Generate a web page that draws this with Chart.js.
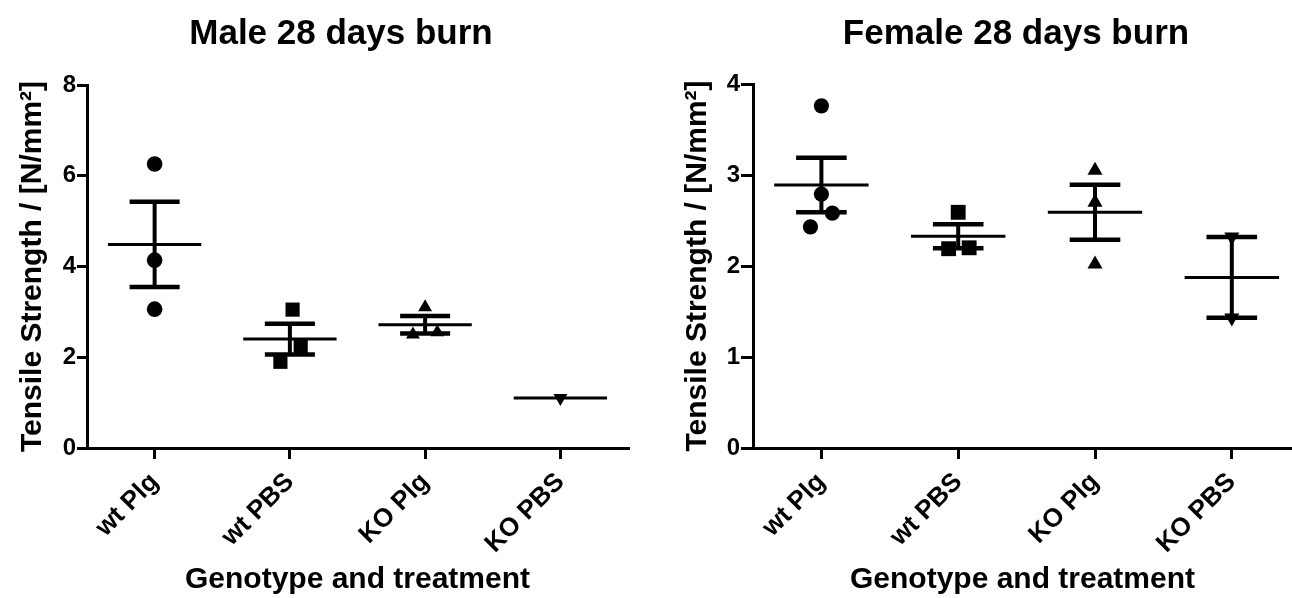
<!DOCTYPE html>
<html>
<head>
<meta charset="utf-8">
<script src="https://cdn.jsdelivr.net/npm/chart.js@4.4.1/dist/chart.umd.min.js"></script>
<style>
  html, body { margin: 0; padding: 0; background: #fff; }
  #wrap { position: relative; width: 1292px; height: 598px; overflow: hidden; }
  .panel { position: absolute; top: 0; width: 646px; height: 598px; }
</style>
</head>
<body>
<div id="wrap">
  <div class="panel" style="left:0"><canvas id="maleChart" width="646" height="598"></canvas></div>
  <div class="panel" style="left:646px"><canvas id="femaleChart" width="646" height="598"></canvas></div>
</div>
<script>
// ===== data =====
const groups = ['wt Plg', 'wt PBS', 'KO Plg', 'KO PBS'];

const maleValues = [
  [6.26, 4.14, 3.06],
  [3.05, 2.25, 1.90],
  [3.10, 2.55, 2.50],
  [1.10]
];
const maleJitter = [
  [0, 0, 0],
  [0.02, 0.08, -0.07],
  [0, 0.09, -0.09],
  [0]
];
const maleTicks = [0, 2, 4, 6, 8];

const femaleValues = [
  [3.76, 2.79, 2.58, 2.43],
  [2.59, 2.19, 2.20],
  [3.05, 2.70, 2.02],
  [2.32, 1.43]
];
const femaleJitter = [
  [0, 0, 0.08, -0.08],
  [0, -0.07, 0.08],
  [0, 0, 0],
  [0, 0]
];
const femaleTicks = [0, 1, 2, 3, 4];

// ===== helpers =====
const FONT = "'Liberation Sans', Arial, Helvetica, sans-serif";
Chart.defaults.font.family = FONT;
Chart.defaults.color = '#000';

const pointStyles = ['circle', 'rect', 'triangle', 'triangle'];
const pointRotations = [0, 0, 0, 180];

function mean(a) {
  return a.reduce((s, v) => s + v, 0) / a.length;
}

function sem(a) {
  if (a.length < 2) return 0;
  const m = mean(a);
  const variance = a.reduce((s, v) => s + (v - m) * (v - m), 0) / (a.length - 1);
  return Math.sqrt(variance / a.length);
}

function buildDatasets(values, jitter, radii) {
  return values.map((vals, i) => ({
    label: groups[i],
    data: vals.map((v, j) => ({ x: i + 1 + jitter[i][j], y: v })),
    pointStyle: pointStyles[i],
    pointRotation: pointRotations[i],
    pointRadius: radii[i],
    pointHoverRadius: radii[i],
    pointBackgroundColor: '#000',
    pointBorderColor: '#000',
    pointBorderWidth: 0,
    showLine: false,
    clip: false
  }));
}

// mean line + SEM whiskers, drawn through the chart scales
function meanSemPlugin(values) {
  return {
    id: 'meanSem',
    afterDatasetsDraw(chart) {
      const { ctx, scales: { x, y } } = chart;
      const seg = (x1, y1, x2, y2, w) => {
        ctx.lineWidth = w;
        ctx.beginPath();
        ctx.moveTo(x1, y1);
        ctx.lineTo(x2, y2);
        ctx.stroke();
      };
      ctx.save();
      ctx.strokeStyle = '#000';
      values.forEach((vals, i) => {
        const c = i + 1;
        const m = mean(vals);
        const e = sem(vals);
        const ym = y.getPixelForValue(m);
        seg(x.getPixelForValue(c - 0.345), ym, x.getPixelForValue(c + 0.345), ym, 3);
        if (e > 0) {
          const yTop = y.getPixelForValue(m + e);
          const yBot = y.getPixelForValue(m - e);
          const xc = x.getPixelForValue(c);
          seg(xc, yTop, xc, yBot, 4);
          seg(x.getPixelForValue(c - 0.185), yTop, x.getPixelForValue(c + 0.185), yTop, 4.5);
          seg(x.getPixelForValue(c - 0.185), yBot, x.getPixelForValue(c + 0.185), yBot, 4.5);
        }
      });
      ctx.restore();
    }
  };
}

// nudge the title sideways (figure titles are not centred on the canvas)
function titleShiftPlugin(dx) {
  return {
    id: 'titleShift',
    afterLayout(chart) {
      if (chart.titleBlock) {
        chart.titleBlock.left += dx;
        chart.titleBlock.right += dx;
      }
    }
  };
}

const axisGrid = (len) => ({
  display: true,
  drawOnChartArea: false,
  drawTicks: true,
  tickLength: len,
  lineWidth: 3,
  color: '#000'
});
const axisBorder = { display: true, width: 3, color: '#000' };

function makeChart(id, cfg) {
  const canvas = document.getElementById(id);
  return new Chart(canvas.getContext('2d'), {
    type: 'scatter',
    data: { datasets: buildDatasets(cfg.values, cfg.jitter, cfg.radii) },
    options: {
      responsive: false,
      animation: false,
      events: [],
      layout: { autoPadding: false, padding: { left: 0, right: cfg.padRight, top: 0, bottom: 0 } },
      plugins: {
        legend: { display: false },
        tooltip: { enabled: false },
        title: {
          display: true,
          text: cfg.title,
          color: '#000',
          font: { size: 35, weight: 'bold', lineHeight: 1.2 },
          padding: { top: 13, bottom: cfg.titleBottom }
        }
      },
      scales: {
        x: {
          type: 'linear',
          min: 0.5,
          max: cfg.xMax,
          afterBuildTicks: (s) => { s.ticks = groups.map((_, i) => ({ value: i + 1 })); },
          afterFit: (s) => { s.height = 150; },
          ticks: {
            callback: (v, idx) => groups[idx],
            minRotation: 45,
            maxRotation: 45,
            autoSkip: false,
            padding: 8,
            color: '#000',
            font: { size: 26, weight: 'bold' }
          },
          grid: axisGrid(11),
          border: axisBorder,
          title: {
            display: true,
            text: 'Genotype and treatment',
            color: '#000',
            font: { size: 30, weight: 'bold', lineHeight: 1 },
            padding: { top: 0, bottom: 3 }
          }
        },
        y: {
          min: 0,
          max: cfg.yMax,
          afterBuildTicks: (s) => { s.ticks = cfg.yTicks.map(v => ({ value: v })); },
          afterFit: (s) => { s.width = cfg.yWidth; },
          ticks: {
            padding: 1,
            color: '#000',
            font: { size: 24, weight: 'bold' }
          },
          grid: axisGrid(cfg.yTickLen),
          border: axisBorder,
          title: {
            display: true,
            text: 'Tensile Strength / [N/mm²]',
            color: '#000',
            font: { size: 30, weight: 'bold', lineHeight: 1 },
            padding: { top: cfg.yTitlePad, bottom: 0 }
          }
        }
      }
    },
    plugins: [meanSemPlugin(cfg.values), titleShiftPlugin(cfg.titleShift)]
  });
}

makeChart('maleChart', {
  title: 'Male 28 days burn',
  values: maleValues,
  jitter: maleJitter,
  radii: [7.8, 10, 8, 8],
  yTicks: maleTicks,
  yMax: 8,
  xMax: 4.5,
  padRight: 18,
  yWidth: 87,
  yTickLen: 10,
  yTitlePad: 18,
  titleBottom: 30,
  titleShift: 27
});

makeChart('femaleChart', {
  title: 'Female 28 days burn',
  values: femaleValues,
  jitter: femaleJitter,
  radii: [7.6, 10.5, 8.7, 8.7],
  yTicks: femaleTicks,
  yMax: 4,
  xMax: 4.44,
  padRight: 0,
  yWidth: 107,
  yTickLen: 12,
  yTitlePad: 37,
  titleBottom: 29,
  titleShift: 47
});
</script>
</body>
</html>
